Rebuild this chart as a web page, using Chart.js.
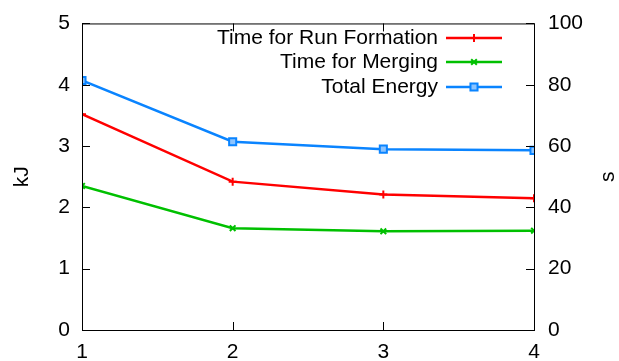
<!DOCTYPE html>
<html>
<head>
<meta charset="utf-8">
<script src="https://cdn.jsdelivr.net/npm/chart.js@4/dist/chart.umd.min.js"></script>
<style>
  html, body { margin: 0; padding: 0; background: #fff; }
  #wrap { width: 619px; height: 361px; }
</style>
</head>
<body>
<div id="wrap"><canvas id="chart" width="619" height="361"></canvas></div>
<script>
// values
const xValues = [1, 2, 3, 4];
const runFormation = [70.4, 48.4, 44.2, 43.0];   // s, right axis
const merging = [47.0, 33.2, 32.2, 32.4];        // s, right axis
const totalEnergy = [4.07, 3.07, 2.95, 2.93];    // kJ, left axis
const leftTicks = [0, 1, 2, 3, 4, 5];
const rightTicks = [0, 20, 40, 60, 80, 100];

const FONT = '"Liberation Sans", Arial, sans-serif';

const toPoints = (ys) => ys.map((y, i) => ({ x: xValues[i], y: y }));

// gnuplot-like frame: box, inward ticks, axis titles and key
const gnuplotFrame = {
    id: 'gnuplotFrame',
    afterDraw(chart) {
        const { ctx, chartArea: a, scales } = chart;
        ctx.save();
        ctx.strokeStyle = '#000';
        ctx.lineWidth = 1;
        ctx.strokeRect(a.left + 0.5, a.top + 0.5, a.right - a.left, a.bottom - a.top);

        const tl = 8;
        ctx.beginPath();
        leftTicks.forEach(v => {
            const y = Math.round(scales.y.getPixelForValue(v)) + 0.5;
            ctx.moveTo(a.left, y); ctx.lineTo(a.left + tl, y);
        });
        rightTicks.forEach(v => {
            const y = Math.round(scales.y2.getPixelForValue(v)) + 0.5;
            ctx.moveTo(a.right, y); ctx.lineTo(a.right - tl, y);
        });
        xValues.forEach(v => {
            const x = Math.round(scales.x.getPixelForValue(v)) + 0.5;
            ctx.moveTo(x, a.bottom); ctx.lineTo(x, a.bottom - tl);
            ctx.moveTo(x, a.top); ctx.lineTo(x, a.top + tl);
        });
        ctx.stroke();

        // axis titles
        ctx.fillStyle = '#000';
        ctx.font = '21px ' + FONT;
        ctx.textAlign = 'center';
        ctx.textBaseline = 'middle';
        const midY = (a.top + a.bottom) / 2;
        ctx.save();
        ctx.translate(22, midY);
        ctx.rotate(-Math.PI / 2);
        ctx.fillText('kJ', 0, 0);
        ctx.restore();
        ctx.save();
        ctx.translate(608, midY);
        ctx.rotate(-Math.PI / 2);
        ctx.fillText('s', 0, 0);
        ctx.restore();

        // key
        const textRight = 438, lineL = 446, lineR = 502, rowY = [38, 62, 87];
        chart.data.datasets.forEach((ds, i) => {
            const y = rowY[i];
            ctx.fillStyle = '#000';
            ctx.textAlign = 'right';
            ctx.fillText(ds.label, textRight, y);
            ctx.strokeStyle = ds.borderColor;
            ctx.lineWidth = ds.borderWidth;
            ctx.beginPath();
            ctx.moveTo(lineL, y); ctx.lineTo(lineR, y);
            ctx.stroke();
            ctx.fillStyle = ds.backgroundColor;
            ctx.strokeStyle = ds.borderColor;
            ctx.lineWidth = ds.pointBorderWidth;
            Chart.helpers.drawPoint(ctx, {
                pointStyle: ds.pointStyle,
                radius: ds.pointRadius,
                borderWidth: ds.pointBorderWidth,
                rotation: 0
            }, (lineL + lineR) / 2, y);
        });
        ctx.restore();
    }
};

function setupPointColors(ds) {
    ds.pointBorderColor = ds.borderColor;
    return ds;
}

const tickFont = { family: FONT, size: 21, lineHeight: 0.9 };

new Chart(document.getElementById('chart'), {
    type: 'line',
    data: {
        datasets: [
            setupPointColors({
                label: 'Time for Run Formation',
                data: toPoints(runFormation),
                yAxisID: 'y2',
                borderColor: '#ff0000',
                backgroundColor: '#ff0000',
                borderWidth: 2.5,
                pointStyle: 'cross',
                pointRadius: 4,
                pointBorderWidth: 2
            }),
            setupPointColors({
                label: 'Time for Merging',
                data: toPoints(merging),
                yAxisID: 'y2',
                borderColor: '#00c000',
                backgroundColor: '#00c000',
                borderWidth: 2.5,
                pointStyle: 'crossRot',
                pointRadius: 4,
                pointBorderWidth: 2
            }),
            setupPointColors({
                label: 'Total Energy',
                data: toPoints(totalEnergy),
                yAxisID: 'y',
                borderColor: '#0a84ff',
                backgroundColor: '#8cc4ff',
                borderWidth: 2.5,
                pointStyle: 'rect',
                pointRadius: 5,
                pointBorderWidth: 2
            })
        ]
    },
    options: {
        responsive: false,
        animation: false,
        layout: { padding: { top: 20, left: 0, right: 0, bottom: 0 } },
        plugins: { legend: { display: false }, tooltip: { enabled: false } },
        elements: { line: { tension: 0 } },
        scales: {
            x: {
                type: 'linear',
                min: 1, max: 4,
                afterFit: (s) => { s.height = 31; },
                afterBuildTicks: (s) => { s.ticks = xValues.map(v => ({ value: v })); },
                grid: { display: false, drawTicks: false },
                border: { display: false },
                ticks: { color: '#000', font: { family: FONT, size: 21 }, padding: 10, maxRotation: 0 }
            },
            y: {
                position: 'left',
                min: 0, max: 5,
                afterFit: (s) => { s.width = 82; },
                afterBuildTicks: (s) => { s.ticks = leftTicks.map(v => ({ value: v })); },
                grid: { display: false, drawTicks: false },
                border: { display: false },
                ticks: { color: '#000', font: tickFont, padding: 12 }
            },
            y2: {
                position: 'right',
                min: 0, max: 100,
                afterFit: (s) => { s.width = 85; },
                afterBuildTicks: (s) => { s.ticks = rightTicks.map(v => ({ value: v })); },
                grid: { display: false, drawTicks: false },
                border: { display: false },
                ticks: { color: '#000', font: tickFont, padding: 14 }
            }
        }
    },
    plugins: [gnuplotFrame]
});
</script>
</body>
</html>
